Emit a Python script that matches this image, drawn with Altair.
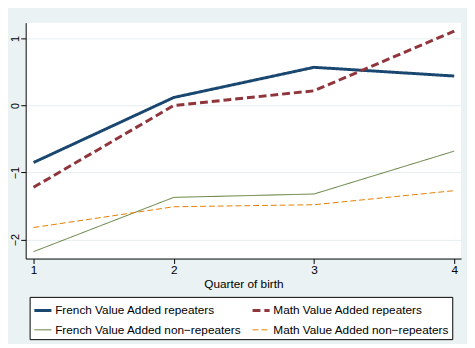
import altair as alt
import pandas as pd

quarters = [1, 2, 3, 4]
series_names = [
    "French Value Added repeaters",
    "Math Value Added repeaters",
    "French Value Added non\u2212repeaters",
    "Math Value Added non\u2212repeaters",
]
french_rep = [-0.85, 0.12, 0.57, 0.44]
math_rep = [-1.22, 0.00, 0.22, 1.11]
french_nonrep = [-2.18, -1.37, -1.32, -0.68]
math_nonrep = [-1.82, -1.51, -1.48, -1.27]

colors = ["#1a476f", "#90353b", "#55752f", "#e37e00"]
dashes = [[1, 0], [8, 4], [1, 0], [6, 3]]
widths = [3, 3, 1, 1]

rows = []
for name, vals in zip(series_names, [french_rep, math_rep, french_nonrep, math_nonrep]):
    for q, v in zip(quarters, vals):
        rows.append({"quarter": q, "value": v, "series": name})
df = pd.DataFrame(rows)

FONT = "Liberation Sans"
leg = alt.Legend(title=None)

chart = alt.Chart(df).mark_line(clip=True).encode(
    x=alt.X("quarter:Q",
            scale=alt.Scale(domain=[0.944, 4.049], nice=False, zero=False),
            axis=alt.Axis(values=quarters, title="Quarter of birth", format="d",
                          grid=False, tickSize=5, labelPadding=1, titlePadding=3)),
    y=alt.Y("value:Q",
            scale=alt.Scale(domain=[-2.283, 1.236], nice=False, zero=False),
            axis=alt.Axis(values=[-2, -1, 0, 1], title=None, format="d",
                          grid=True, tickSize=5, labelAngle=270, labelAlign="center",
                          labelBaseline="alphabetic", labelPadding=2, labelFontSize=11)),
    color=alt.Color("series:N", scale=alt.Scale(domain=series_names, range=colors),
                    legend=leg),
    strokeDash=alt.StrokeDash("series:N", scale=alt.Scale(domain=series_names, range=dashes),
                              legend=leg),
    strokeWidth=alt.StrokeWidth("series:N",
                                scale=alt.Scale(type="ordinal", domain=series_names, range=widths),
                                legend=leg),
    detail="series:N",
).properties(
    width=443,
    height=240,
    background="#eaf2f3",
    padding={"left": 18, "top": 12, "right": 6, "bottom": 84},
    autosize=alt.AutoSizeParams(type="none"),
).configure_view(
    fill="white", stroke=None
).configure_axis(
    labelFont=FONT, titleFont=FONT, labelFontSize=12, titleFontSize=12,
    titleFontWeight="normal", labelColor="black", titleColor="black",
    domainColor="black", tickColor="black", domainWidth=1, tickWidth=1,
    gridColor="#e6eef0", gridWidth=1,
).configure_legend(
    orient="none", legendX=4, legendY=279, direction="horizontal", columns=2,
    columnPadding=4, rowPadding=4, padding=3, labelFont=FONT, labelFontSize=12,
    labelColor="black", symbolType="stroke", symbolSize=300, labelOffset=2,
    fillColor="white", strokeColor="black", labelLimit=400,
)

chart.save("out.html", embed_options={"renderer": "svg", "actions": False})
